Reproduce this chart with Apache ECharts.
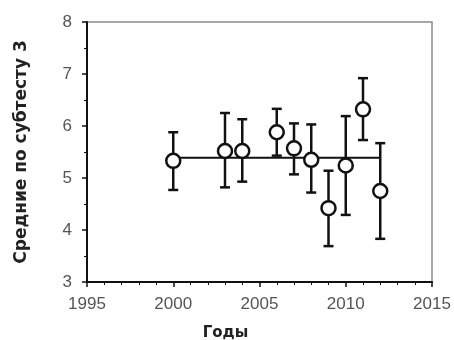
<!DOCTYPE html>
<html>
<head>
<meta charset="utf-8">
<script src="https://cdn.jsdelivr.net/npm/echarts@6/dist/echarts.min.js"></script>
<style>
  html, body { margin: 0; padding: 0; background: #fff; }
  #chart { width: 454px; height: 340px; }
</style>
</head>
<body>
<div id="chart"></div>
<script>
// значения
const years = [2000, 2003, 2004, 2006, 2007, 2008, 2009, 2010, 2011, 2012];
const means = [5.33, 5.52, 5.52, 5.88, 5.57, 5.35, 4.42, 5.24, 6.32, 4.75];
const upper = [5.88, 6.25, 6.13, 6.33, 6.05, 6.03, 5.14, 6.19, 6.92, 5.67];
const lower = [4.77, 4.82, 4.93, 5.43, 5.07, 4.72, 3.69, 4.29, 5.73, 3.83];
const meanLineX = [2000, 2012];
const meanLineY = [5.39, 5.39];

const chart = echarts.init(document.getElementById('chart'));

const errData = years.map((y, i) => [y, lower[i], upper[i]]);

chart.setOption({
  animation: false,
  grid: {
    left: 87, right: 22, top: 22, bottom: 58,
    outerBoundsMode: 'none',
    containLabel: false,
    show: true, borderColor: '#8a8a8a', borderWidth: 1.5,
  },
  xAxis: {
    type: 'value',
    min: 1995,
    max: 2015,
    interval: 5,
    name: 'Годы',
    nameLocation: 'middle',
    nameGap: 44,
    nameTextStyle: {
      fontFamily: 'DejaVu Sans', fontWeight: 'bold', fontSize: 15, color: '#222',
      padding: [0, 68, 0, 0],
    },
    axisLine: { lineStyle: { color: '#111', width: 2 } },
    axisTick: { length: 5, lineStyle: { color: '#111', width: 1.5 } },
    minorTick: { show: true, splitNumber: 5, length: 3, lineStyle: { color: '#111' } },
    axisLabel: {
      fontFamily: 'Liberation Sans', fontSize: 17, color: '#555', margin: 14,
      formatter: (v) => String(v),
    },
    splitLine: { show: false },
  },
  yAxis: {
    type: 'value',
    min: 3,
    max: 8,
    interval: 1,
    name: 'Средние по субтесту 3',
    nameLocation: 'middle',
    nameGap: 57,
    nameTextStyle: { fontFamily: 'DejaVu Sans', fontWeight: 'bold', fontSize: 17, color: '#222' },
    axisLine: { show: true, lineStyle: { color: '#111', width: 2 } },
    axisTick: { show: true, length: 5, lineStyle: { color: '#111', width: 1.5 } },
    minorTick: { show: true, splitNumber: 2, length: 3, lineStyle: { color: '#111' } },
    axisLabel: { fontFamily: 'Liberation Sans', fontSize: 17, color: '#555', margin: 15 },
    splitLine: { show: false },
  },
  series: [
    {
      type: 'line',
      data: meanLineX.map((x, i) => [x, meanLineY[i]]),
      symbol: 'none',
      lineStyle: { color: '#111', width: 2 },
      z: 2,
    },
    {
      type: 'custom',
      data: errData,
      renderItem(params, api) {
        const x = api.value(0);
        const lo = api.coord([x, api.value(1)]);
        const hi = api.coord([x, api.value(2)]);
        const cap = 5;
        const style = { stroke: '#111', lineWidth: 2.5 };
        return {
          type: 'group',
          children: [
            { type: 'line', shape: { x1: lo[0], y1: lo[1], x2: hi[0], y2: hi[1] }, style },
            { type: 'line', shape: { x1: lo[0] - cap, y1: lo[1], x2: lo[0] + cap, y2: lo[1] }, style },
            { type: 'line', shape: { x1: hi[0] - cap, y1: hi[1], x2: hi[0] + cap, y2: hi[1] }, style },
          ],
        };
      },
      z: 3,
    },
    {
      type: 'scatter',
      data: years.map((y, i) => [y, means[i]]),
      symbol: 'circle',
      symbolSize: 14,
      itemStyle: { color: '#fff', opacity: 1, borderColor: '#111', borderWidth: 2.5 },
      z: 4,
    },
  ],
});
</script>
</body>
</html>
